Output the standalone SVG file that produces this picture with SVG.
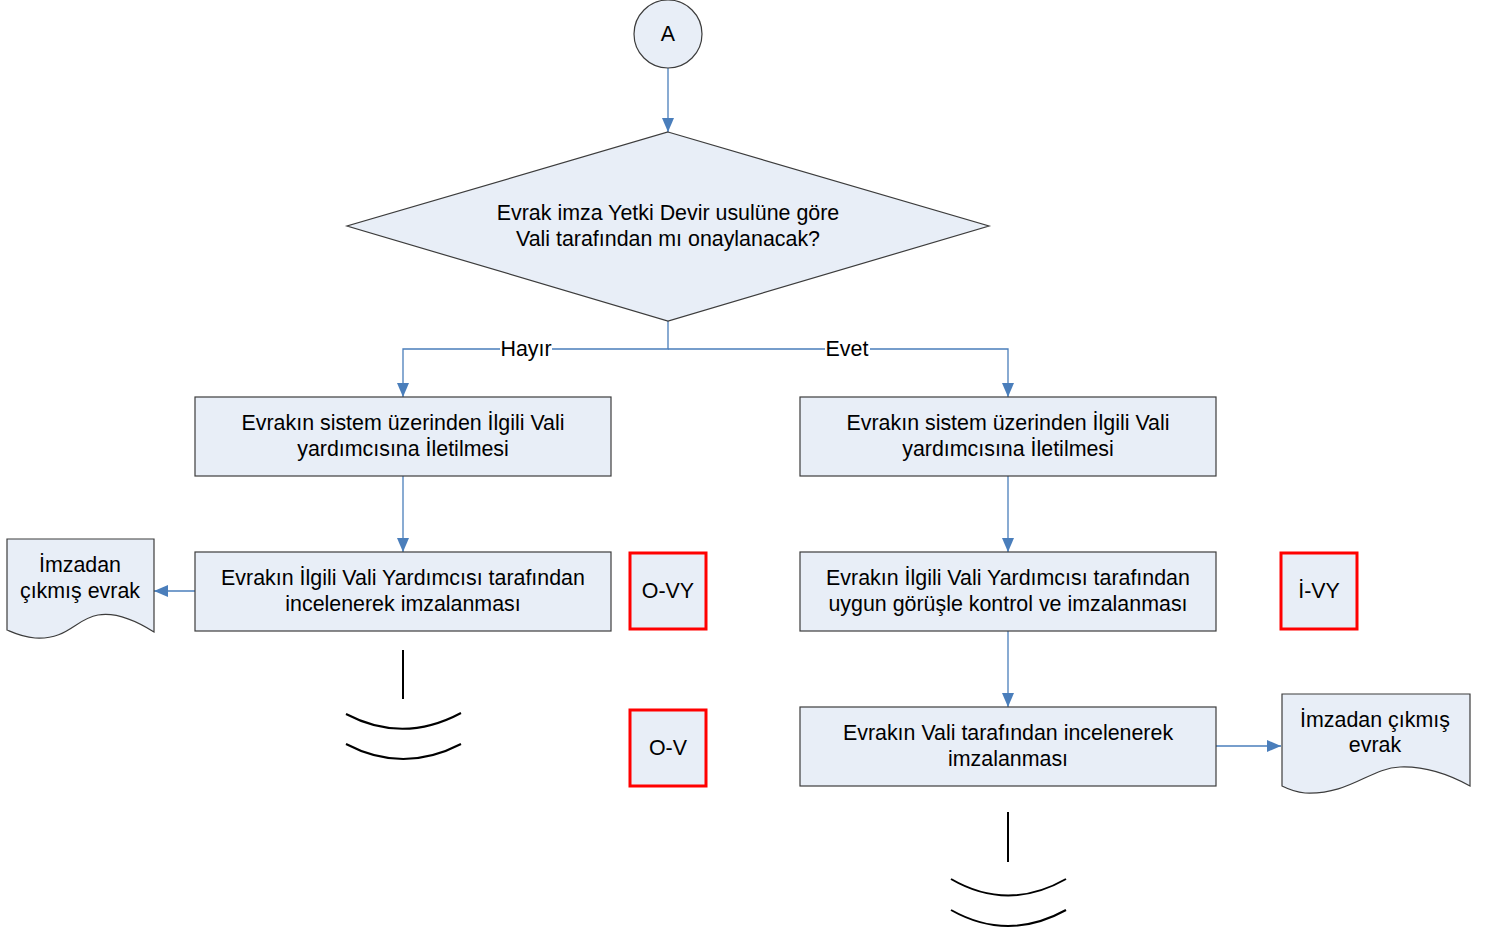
<svg xmlns="http://www.w3.org/2000/svg" width="1486" height="933" viewBox="0 0 1486 933">
<defs>
<style>
.shape{fill:#E8EEF7;stroke:#3c3c3c;stroke-width:1.2}
.red{fill:#E8EEF7;stroke:#FF0000;stroke-width:3}
.conn{fill:none;stroke:#4A7EBB;stroke-width:1.3}
.t{font-family:"Liberation Sans",Arial,sans-serif;font-size:21.4px;fill:#000;text-anchor:middle}
.off{fill:none;stroke:#000;stroke-width:2}
</style>
<marker id="arr" viewBox="0 0 14 12" refX="14" refY="6" markerWidth="14" markerHeight="12" markerUnits="userSpaceOnUse" orient="auto">
<path d="M0,0 L14,6 L0,12 Z" fill="#4A7EBB"/>
</marker>
</defs>
<rect width="1486" height="933" fill="#fff"/>

<g id="connectors">
<path class="conn" d="M668,68 V132" marker-end="url(#arr)"/>
<path class="conn" d="M668,321 V349 H403 V397" marker-end="url(#arr)"/>
<path class="conn" d="M668,349 H1008 V397" marker-end="url(#arr)"/>
<path class="conn" d="M403,476 V552" marker-end="url(#arr)"/>
<path class="conn" d="M195,591 H154" marker-end="url(#arr)"/>
<path class="conn" d="M1008,476 V552" marker-end="url(#arr)"/>
<path class="conn" d="M1008,631 V707" marker-end="url(#arr)"/>
<path class="conn" d="M1216,746 H1281" marker-end="url(#arr)"/>
<rect x="500" y="337" width="52" height="22" fill="#fff"/>
<text class="t" x="526" y="356">Hayır</text>
<rect x="825" y="337" width="45" height="22" fill="#fff"/>
<text class="t" x="847" y="356">Evet</text>
</g>

<g id="start">
<circle class="shape" cx="668" cy="34" r="34"/>
<text class="t" x="668" y="41">A</text>
</g>

<g id="decision">
<path class="shape" d="M668,132 L989,226 L668,321 L347,226 Z"/>
<text class="t" x="668" y="220">Evrak imza Yetki Devir usulüne göre</text>
<text class="t" x="668" y="246">Vali tarafından mı onaylanacak?</text>
</g>

<g id="left1">
<rect class="shape" x="195" y="397" width="416" height="79"/>
<text class="t" x="403" y="430">Evrakın sistem üzerinden İlgili Vali</text>
<text class="t" x="403" y="456">yardımcısına İletilmesi</text>
</g>

<g id="left2">
<rect class="shape" x="195" y="552" width="416" height="79"/>
<text class="t" x="403" y="585">Evrakın İlgili Vali Yardımcısı tarafından</text>
<text class="t" x="403" y="611">incelenerek imzalanması</text>
</g>

<g id="leftDoc">
<path class="shape" d="M7,539 H154 V632 C135,620 115,612 98,615 C75,619 68,640 35,638 C22,637 14,633 7,630 Z"/>
<text class="t" x="80" y="572">İmzadan</text>
<text class="t" x="80" y="598">çıkmış evrak</text>
</g>

<g id="leftOff">
<path class="off" d="M403,650 V699"/>
<path class="off" d="M346,714 Q403,744 461,713"/>
<path class="off" d="M346,744 Q403,774 461,744"/>
</g>

<g id="OVY">
<rect class="red" x="630" y="553" width="76" height="76"/>
<text class="t" x="668" y="598">O-VY</text>
</g>

<g id="OV">
<rect class="red" x="630" y="710" width="76" height="76"/>
<text class="t" x="668" y="755">O-V</text>
</g>

<g id="right1">
<rect class="shape" x="800" y="397" width="416" height="79"/>
<text class="t" x="1008" y="430">Evrakın sistem üzerinden İlgili Vali</text>
<text class="t" x="1008" y="456">yardımcısına İletilmesi</text>
</g>

<g id="right2">
<rect class="shape" x="800" y="552" width="416" height="79"/>
<text class="t" x="1008" y="585">Evrakın İlgili Vali Yardımcısı tarafından</text>
<text class="t" x="1008" y="611">uygun görüşle kontrol ve imzalanması</text>
</g>

<g id="IVY">
<rect class="red" x="1281" y="553" width="76" height="76"/>
<text class="t" x="1319" y="598">İ-VY</text>
</g>

<g id="right3">
<rect class="shape" x="800" y="707" width="416" height="79"/>
<text class="t" x="1008" y="740">Evrakın Vali tarafından incelenerek</text>
<text class="t" x="1008" y="766">imzalanması</text>
</g>

<g id="rightDoc">
<path class="shape" d="M1282,694 H1470 V786 C1450,775 1425,766 1400,767 C1370,768 1350,795 1305,793 C1295,792 1288,789 1282,786 Z"/>
<text class="t" x="1375" y="727">İmzadan çıkmış</text>
<text class="t" x="1375" y="752">evrak</text>
</g>

<g id="rightOff">
<path class="off" d="M1008,812 V862"/>
<path class="off" d="M951,879 Q1008,912 1066,879"/>
<path class="off" d="M951,910 Q1008,942 1066,910"/>
</g>
</svg>
